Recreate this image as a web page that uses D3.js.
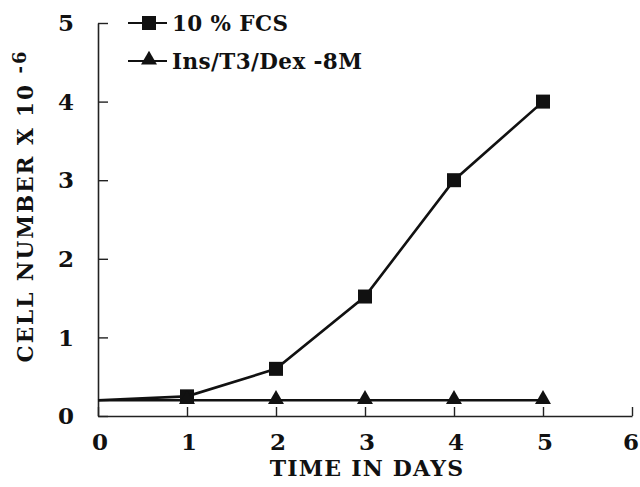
<!DOCTYPE html>
<html>
<head>
<meta charset="utf-8">
<script src="https://cdn.jsdelivr.net/npm/d3@7"></script>
<style>
  body { margin: 0; background: #fff; }
  text { font-family: "DejaVu Serif", "Liberation Serif", serif; font-weight: bold; fill: #111; }
</style>
</head>
<body>
<div id="chart"></div>
<script>
// data
const days = [0, 1, 2, 3, 4, 5];
const fcsValues = [0.2, 0.25, 0.6, 1.52, 3.0, 4.0];
const insValues = [0.2, 0.2, 0.2, 0.2, 0.2, 0.2];
const seriesNames = ["10 % FCS", "Ins/T3/Dex -8M"];
const xTicks = [0, 1, 2, 3, 4, 5, 6];
const yTicks = [0, 1, 2, 3, 4, 5];

const width = 640, height = 487;
const margin = { top: 23, right: 8, bottom: 71, left: 98 };

const svg = d3.select("#chart")
    .append("svg")
    .attr("width", width)
    .attr("height", height);

const x = d3.scaleLinear().domain([0, 6]).range([margin.left, width - margin.right]);
const y = d3.scaleLinear().domain([0, 5]).range([height - margin.bottom, margin.top]);

// y axis, ticks pointing inward
svg.append("g")
    .attr("transform", `translate(${margin.left},0)`)
    .call(d3.axisRight(y).tickValues(yTicks).tickSize(10).tickSizeOuter(0).tickFormat(""))
    .call(g => g.select(".domain").attr("stroke", "#222").attr("stroke-width", 1.6))
    .call(g => g.selectAll(".tick line").attr("stroke", "#222").attr("stroke-width", 1.4));

// x axis, ticks pointing up
svg.append("g")
    .attr("transform", `translate(0,${y(0)})`)
    .call(d3.axisTop(x).tickValues(xTicks).tickSize(9).tickSizeOuter(0).tickFormat(""))
    .call(g => g.select(".domain").attr("stroke", "#222").attr("stroke-width", 1.6))
    .call(g => g.selectAll(".tick line").attr("stroke", "#222").attr("stroke-width", 1.4));

// tick labels
svg.selectAll(".ylab")
    .data(yTicks)
    .enter().append("text")
    .attr("class", "ylab")
    .attr("x", 66)
    .attr("y", d => y(d))
    .attr("dy", "0.36em")
    .attr("text-anchor", "middle")
    .style("font-size", "23px")
    .text(d => d);

svg.selectAll(".xlab")
    .data(xTicks)
    .enter().append("text")
    .attr("class", "xlab")
    .attr("x", d => Math.min(x(d) + 2, 631))
    .attr("y", y(0) + 34)
    .attr("text-anchor", "middle")
    .style("font-size", "23px")
    .text(d => d);

// axis titles
svg.append("text")
    .attr("x", 367)
    .attr("y", 476)
    .attr("text-anchor", "middle")
    .style("font-size", "22px")
    .style("letter-spacing", "1.2px")
    .text("TIME IN DAYS");

const yt = svg.append("text")
    .attr("transform", "translate(33,206) rotate(-90)")
    .attr("text-anchor", "middle")
    .style("font-size", "21.5px")
    .style("letter-spacing", "2px");
yt.append("tspan").text("CELL NUMBER X 10 ");
yt.append("tspan").attr("dy", "-0.4em").style("font-size", "18px").text("-6");

// lines
const line = d3.line().x(d => x(d[0])).y(d => y(d[1]));
const fcs = days.map((d, i) => [d, fcsValues[i]]);
const ins = days.map((d, i) => [d, insValues[i]]);

svg.append("path").datum(ins)
    .attr("d", line).attr("fill", "none").attr("stroke", "#111").attr("stroke-width", 2.6);
svg.append("path").datum(fcs)
    .attr("d", line).attr("fill", "none").attr("stroke", "#111").attr("stroke-width", 2.6);

// markers (no marker at day 0)
const sq = 14;
svg.selectAll(".sq")
    .data(fcs.slice(1))
    .enter().append("rect")
    .attr("x", d => x(d[0]) - sq / 2)
    .attr("y", d => y(d[1]) - sq / 2)
    .attr("width", sq).attr("height", sq)
    .attr("fill", "#111");

const tri = d3.symbol().type(d3.symbolTriangle).size(110);
svg.selectAll(".tri")
    .data(ins.slice(1))
    .enter().append("path")
    .attr("d", tri)
    .attr("transform", d => `translate(${x(d[0])},${y(d[1]) - 1})`)
    .attr("fill", "#111");

// legend
const legend = svg.append("g");
const legY = [23, 61];
legend.selectAll("line")
    .data(legY)
    .enter().append("line")
    .attr("x1", 128).attr("x2", 167)
    .attr("y1", d => d).attr("y2", d => d)
    .attr("stroke", "#111").attr("stroke-width", 2);
legend.append("rect")
    .attr("x", 149 - 7).attr("y", legY[0] - 7)
    .attr("width", 14).attr("height", 14).attr("fill", "#111");
legend.append("path")
    .attr("d", tri)
    .attr("transform", `translate(149,${legY[1] - 1})`)
    .attr("fill", "#111");
legend.selectAll("text")
    .data(seriesNames)
    .enter().append("text")
    .attr("x", 172)
    .attr("y", (d, i) => legY[i])
    .attr("dy", "0.36em")
    .style("font-size", "21.5px")
    .style("letter-spacing", "0.4px")
    .text(d => d);
</script>
</body>
</html>
